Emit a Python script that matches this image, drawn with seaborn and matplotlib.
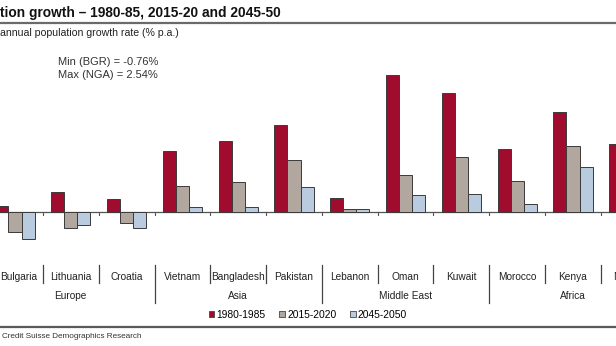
import numpy as np
import pandas as pd
import matplotlib
matplotlib.use("Agg")
import matplotlib.pyplot as plt
from matplotlib.patches import Patch
from matplotlib.transforms import blended_transform_factory
import seaborn as sns

# Annual population growth rate (% p.a.) by country and period
countries = ["Bulgaria", "Lithuania", "Croatia", "Vietnam", "Bangladesh", "Pakistan",
             "Lebanon", "Oman", "Kuwait", "Morocco", "Kenya", "Nigeria"]
regions = ["Europe", "Europe", "Europe", "Asia", "Asia", "Asia",
           "Middle East", "Middle East", "Middle East", "Africa", "Africa", "Africa"]
periods = ["1980-1985", "2015-2020", "2045-2050"]
growth_1980_85 = [0.23, 0.76, 0.49, 2.33, 2.70, 3.33, 0.56, 5.23, 4.54, 2.40, 3.81, 2.61]
growth_2015_20 = [-0.76, -0.61, -0.40, 0.99, 1.14, 1.99, 0.14, 1.42, 2.09, 1.19, 2.52, 2.54]
growth_2045_50 = [-1.03, -0.49, -0.61, 0.21, 0.20, 0.97, 0.14, 0.66, 0.71, 0.32, 1.71, 2.10]

colors = ["#A00C2E", "#B2A79E", "#B9CCDF"]

df = pd.DataFrame({
    "country": countries * 3,
    "period": np.repeat(periods, len(countries)),
    "growth": growth_1980_85 + growth_2015_20 + growth_2045_50,
})

FONT = "Liberation Sans"
plt.rcParams["font.family"] = [FONT, "DejaVu Sans"]

W, H = 616, 346
fig = plt.figure(figsize=(W / 100, H / 100), dpi=100)

# Axes spill past both figure edges so the outer groups are cut by the frame
ax = fig.add_axes([-0.02094, 0.28757, 1.08701, 0.52457])
sns.barplot(data=df, x="country", y="growth", hue="period", order=countries,
            hue_order=periods, palette=colors, saturation=1, width=0.7,
            edgecolor="#3a3a3a", linewidth=0.7, legend=False, ax=ax)
ax.set_xlim(-0.5, len(countries) - 0.5)
ax.set_ylim(-1.3, 5.6)
ax.set_xlabel("")
ax.set_ylabel("")
ax.set_xticks([])
ax.set_yticks([])
for s in ax.spines.values():
    s.set_visible(False)
ax.set_facecolor("none")

# Zero line with small ticks at group boundaries
ax.axhline(0, color="#555555", lw=0.9, zorder=0.5)
bounds = np.arange(len(countries) + 1) - 0.5
tick_tr = blended_transform_factory(ax.transData, ax.transAxes)
zero_ax = (0 - ax.get_ylim()[0]) / (ax.get_ylim()[1] - ax.get_ylim()[0])
for b in bounds:
    ax.plot([b, b], [zero_ax, zero_ax - 3 / 181.5], transform=tick_tr,
            color="#555555", lw=0.8, clip_on=False)

# Category labels and separators below the plot
ftr = blended_transform_factory(ax.transData, fig.transFigure)
def fy(px):
    return 1 - px / H

for i, c in enumerate(countries):
    if i == 0:
        # first label sits against the left edge of the figure
        fig.text(0.0, fy(277), c, ha="left", va="center",
                 fontsize=7.3, color="#222222")
    else:
        ax.text(i, fy(277), c, transform=ftr, ha="center", va="center",
                fontsize=7.3, color="#222222", clip_on=False)

for i in range(len(countries) - 1):
    long_sep = regions[i] != regions[i + 1]
    ax.plot([i + 0.5, i + 0.5], [fy(265), fy(303 if long_sep else 283)],
            transform=ftr, color="#444444", lw=0.9, clip_on=False)

region_names = []
for r in regions:
    if r not in region_names:
        region_names.append(r)
for r in region_names:
    idx = [i for i, x in enumerate(regions) if x == r]
    ax.text(np.mean(idx), fy(296), r, transform=ftr, ha="center", va="center",
            fontsize=7.3, color="#222222", clip_on=False)

# Header
fig.text(0.0, fy(13), "tion growth \u2013 1980-85, 2015-20 and 2045-50",
         ha="left", va="center", fontsize=9.9, fontweight="bold", color="#111111")
fig.add_artist(plt.Line2D([0, 1], [fy(23), fy(23)], color="#6a6a6a", lw=1.6))
fig.text(0.0, fy(33), "annual population growth rate (% p.a.)",
         ha="left", va="center", fontsize=7.6, color="#222222")

# Min / max annotation
fig.text(58 / W, fy(62), "Min (BGR) = -0.76%", ha="left", va="center",
         fontsize=8, color="#333333")
fig.text(58 / W, fy(75), "Max (NGA) = 2.54%", ha="left", va="center",
         fontsize=8, color="#333333")

# Legend
handles = [Patch(facecolor=col, edgecolor="#444444", linewidth=0.6) for col in colors]
fig.legend(handles, periods, loc="center", bbox_to_anchor=(308 / W, fy(315)),
           ncol=3, frameon=False, fontsize=7.4, handlelength=0.55, handleheight=0.55,
           handletextpad=0.2, columnspacing=1.35, borderpad=0)

# Footer
fig.add_artist(plt.Line2D([0, 1], [fy(327), fy(327)], color="#5a5a5a", lw=1.6))
fig.text(2 / W, fy(337), "Credit Suisse Demographics Research", ha="left",
         va="center", fontsize=5.9, color="#333333")

fig.savefig("out.png", dpi=100)
